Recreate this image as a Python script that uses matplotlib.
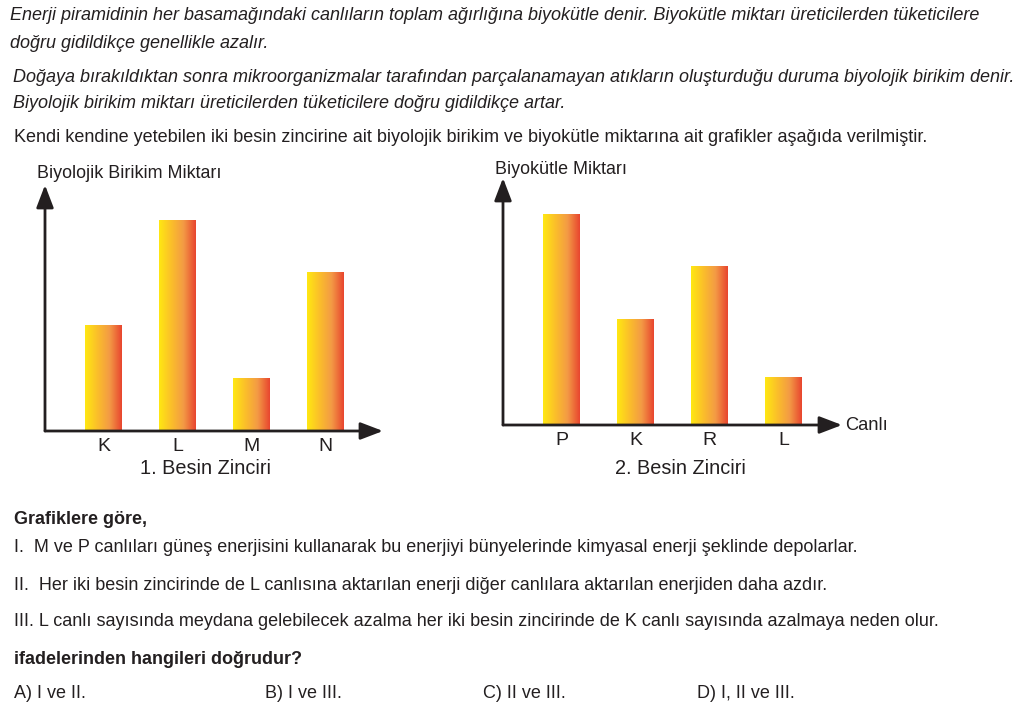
import matplotlib
matplotlib.use("Agg")
import matplotlib.pyplot as plt
import numpy as np
from matplotlib.colors import LinearSegmentedColormap

plt.rcParams['font.family'] = ['Liberation Sans', 'DejaVu Sans']

W, H = 1035, 710
TXT = '#231f20'

# ---- data ----
chain1_labels = ['K', 'L', 'M', 'N']
chain1_values = [2, 4, 1, 3]          # Biyolojik birikim
chain2_labels = ['P', 'K', 'R', 'L']
chain2_values = [4, 2, 3, 0.9]        # Biyokütle

para_lines = [
    "Enerji piramidinin her basamağındaki canlıların toplam ağırlığına biyokütle denir. Biyokütle miktarı üreticilerden tüketicilere",
    "doğru gidildikçe genellikle azalır.",
    "Doğaya bırakıldıktan sonra mikroorganizmalar tarafından parçalanamayan atıkların oluşturduğu duruma biyolojik birikim denir.",
    "Biyolojik birikim miktarı üreticilerden tüketicilere doğru gidildikçe artar.",
]
intro = "Kendi kendine yetebilen iki besin zincirine ait biyolojik birikim ve biyokütle miktarına ait grafikler aşağıda verilmiştir."
statements = [
    "I.  M ve P canlıları güneş enerjisini kullanarak bu enerjiyi bünyelerinde kimyasal enerji şeklinde depolarlar.",
    "II.  Her iki besin zincirinde de L canlısına aktarılan enerji diğer canlılara aktarılan enerjiden daha azdır.",
    "III. L canlı sayısında meydana gelebilecek azalma her iki besin zincirinde de K canlı sayısında azalmaya neden olur.",
]
options = ["A) I ve II.", "B) I ve III.", "C) II ve III.", "D) I, II ve III."]

fig = plt.figure(figsize=(W/100, H/100), dpi=100)
fig.patch.set_facecolor('white')

def ftext(x, y, s, **kw):
    kw.setdefault('fontsize', 13)
    kw.setdefault('color', TXT)
    fig.text(x/W, 1 - (y + 2)/H, s, va='center', ha=kw.pop('ha', 'left'), **kw)

# paragraphs
ftext(10, 14, para_lines[0], style='italic')
ftext(10, 41, para_lines[1], style='italic')
ftext(13, 75, para_lines[2], style='italic')
ftext(13, 101, para_lines[3], style='italic')
ftext(14, 135, intro)

cmap = LinearSegmentedColormap.from_list('yr', ['#ffe812', '#fbbf2a', '#f39a45', '#e8452f'])
grad = np.linspace(0, 1, 256).reshape(1, -1)

def chart(x_left, x_right, y_base, y_top, labels, values, ylabel, ylabel_xy, title, title_xy, canli=False):
    unit_x = 74.0
    unit_y = 52.7
    ax = fig.add_axes([x_left/W, 1 - y_base/H, (x_right - x_left)/W, (y_base - y_top)/H])
    first_center = x_left + 58.5
    xmin = -(first_center - x_left)/unit_x
    xmax = xmin + (x_right - x_left)/unit_x
    ymax = (y_base - y_top)/unit_y
    x = np.arange(len(labels))
    bars = ax.bar(x, values, width=0.5, color='none', edgecolor='none')
    for b in bars:
        x0, y0 = b.get_x(), b.get_y()
        ax.imshow(grad, extent=[x0, x0 + b.get_width(), y0, y0 + b.get_height()],
                  aspect='auto', cmap=cmap, interpolation='bicubic', zorder=2)
    ax.set_xlim(xmin, xmax)
    ax.set_ylim(0, ymax)
    for s in ax.spines.values():
        s.set_visible(False)
    ax.set_yticks([])
    ax.set_xticks(x)
    ax.set_xticklabels(labels, fontsize=14, color=TXT)
    ax.tick_params(axis='x', length=0, pad=5)
    ax.patch.set_alpha(0)
    ap = dict(arrowstyle='-|>,head_length=0.55,head_width=0.21', lw=2.0, color=TXT,
              mutation_scale=25, shrinkA=0, shrinkB=0)
    ax.annotate('', xy=(1, 0), xytext=(0, 0), xycoords='axes fraction', arrowprops=ap, annotation_clip=False)
    ax.annotate('', xy=(0, 1), xytext=(0, 0), xycoords='axes fraction', arrowprops=ap, annotation_clip=False)
    ftext(ylabel_xy[0], ylabel_xy[1], ylabel, fontsize=12.9)
    ftext(title_xy[0], title_xy[1], title, fontsize=14.3, ha='center')
    if canli:
        ftext(x_right + 3, y_base - 2, 'Canlı', fontsize=13.2)
    return ax

chart(45, 383, 431, 185, chain1_labels, chain1_values, 'Biyolojik Birikim Miktarı', (37, 172),
      '1. Besin Zinciri', (205, 466))
chart(503, 842, 425, 178, chain2_labels, chain2_values, 'Biyokütle Miktarı', (495, 168),
      '2. Besin Zinciri', (680, 466), canli=True)

ftext(14, 517, "Grafiklere göre,", fontweight='bold')
ftext(14, 546, statements[0])
ftext(14, 583, statements[1])
ftext(14, 620, statements[2])
ftext(14, 657, "ifadelerinden hangileri doğrudur?", fontweight='bold')
for xo, s in zip([14, 265, 483, 697], options):
    ftext(xo, 692, s)

fig.savefig('out.png', dpi=100, facecolor='white')
